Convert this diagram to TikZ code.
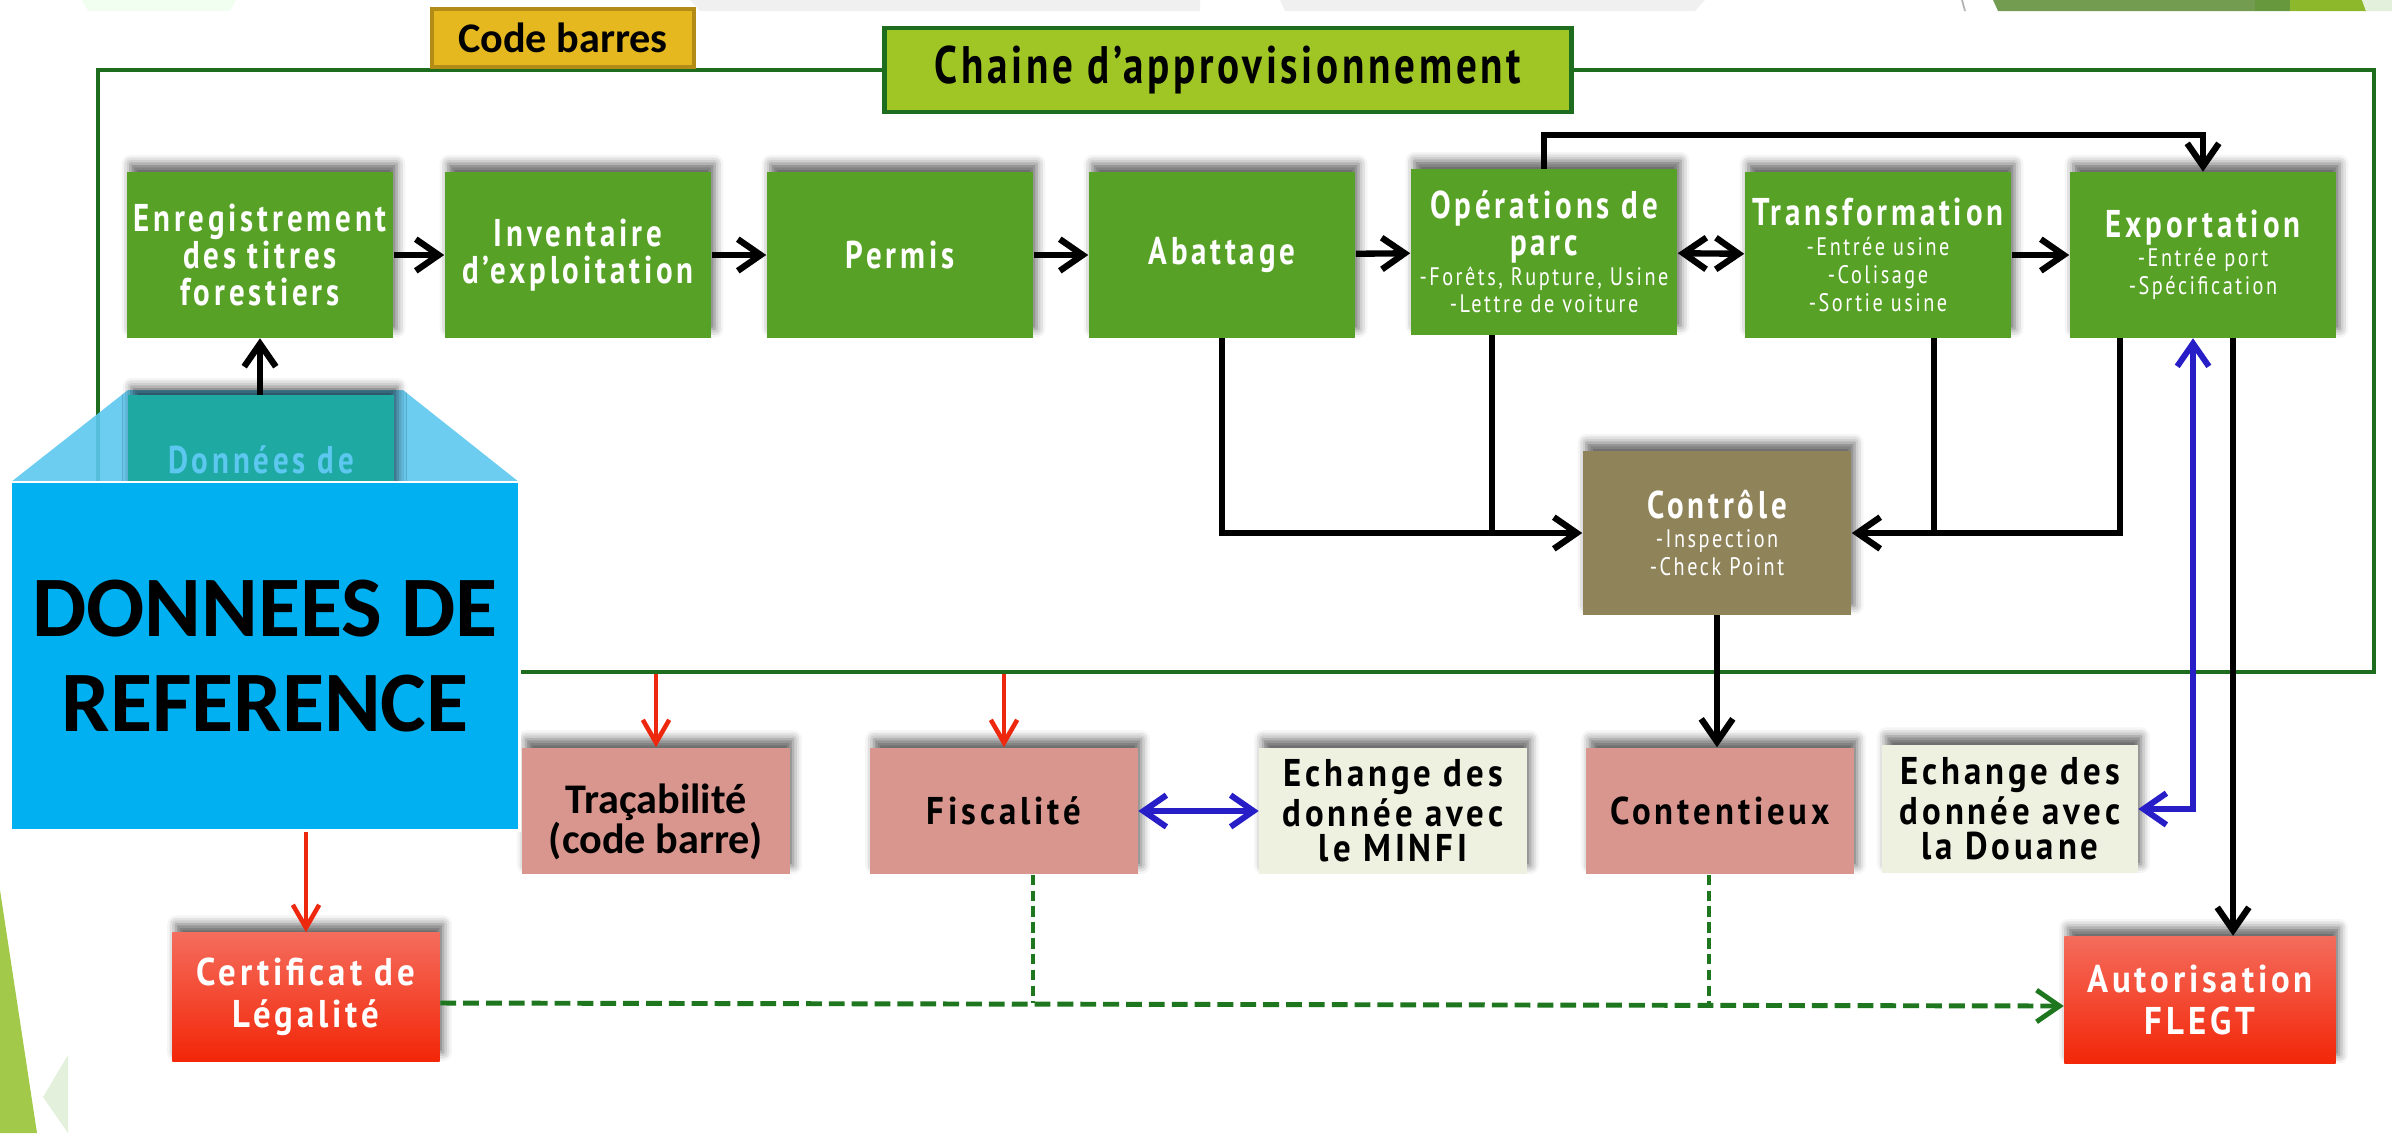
\documentclass[tikz,border=0pt]{standalone}
\usepackage{fontspec}
\usepackage{xcolor}
\usepackage{tikz}
\usetikzlibrary{arrows.meta,shadows.blur}
\setmainfont{PT Sans}
\newfontfamily\agency[FakeStretch=0.8,LetterSpace=10]{PT Sans}
\newfontfamily\agencyt[FakeStretch=0.78,LetterSpace=7]{PT Sans}
\newfontfamily\agencyb[FakeStretch=0.9,LetterSpace=10]{PT Sans}
\newfontfamily\calibri{Carlito}
\newcommand{\petit}{\mdseries\fontsize{7.2}{8}\selectfont}

\definecolor{vertbox}{RGB}{87,162,38}
\definecolor{vertcadre}{RGB}{30,108,30}
\definecolor{verttitre}{RGB}{160,198,38}
\definecolor{orcode}{RGB}{229,184,32}
\definecolor{orbord}{RGB}{178,140,22}
\definecolor{brun}{RGB}{143,131,89}
\definecolor{rose}{RGB}{217,150,143}
\definecolor{creme}{RGB}{238,240,224}
\definecolor{rougehaut}{RGB}{244,108,92}
\definecolor{rougebas}{RGB}{243,38,8}
\definecolor{rouge}{RGB}{238,40,14}
\definecolor{bleu}{RGB}{40,30,200}
\definecolor{ciel}{RGB}{0,176,240}
\definecolor{cielclair}{RGB}{92,200,240}
\definecolor{sarcelle}{RGB}{31,169,163}
\definecolor{pointille}{RGB}{30,118,30}
\definecolor{decoA}{RGB}{115,156,80}
\definecolor{decoB}{RGB}{104,152,62}
\definecolor{decoC}{RGB}{141,184,44}
\definecolor{decoD}{RGB}{162,201,74}
\definecolor{decoE}{RGB}{227,240,220}

\tikzset{
  boite/.style={minimum width=2.66cm, minimum height=1.65cm, inner sep=0pt, align=center,
    blur shadow={shadow xshift=1pt, shadow yshift=2.5pt, shadow blur radius=2.5pt, shadow opacity=60}},
  etape/.style={boite, fill=vertbox, text=white, font=\agency\bfseries\fontsize{11}{10.5}\selectfont},
  controle/.style={etape, fill=brun, minimum width=2.68cm, minimum height=1.63cm},
  service/.style={boite, fill=rose, text=black, minimum width=2.67cm, minimum height=1.26cm, font=\agencyb\bfseries\fontsize{11}{10}\selectfont},
  echange/.style={service, fill=creme},
  acte/.style={boite, top color=rougehaut, bottom color=rougebas, text=white, minimum width=2.67cm, minimum height=1.28cm, font=\agencyb\bfseries\fontsize{11}{12}\selectfont},
  flux/.style={line width=1.8pt, >={Straight Barb[length=6.5pt,width=9pt]}},
  rflux/.style={draw=rouge, line width=1.3pt, >={Straight Barb[length=6.5pt,width=7.5pt]}},
  bflux/.style={draw=bleu, line width=1.7pt, >={Straight Barb[length=6.5pt,width=9pt]}},
  gflux/.style={draw=pointille, line width=1.4pt, dash pattern=on 4.5pt off 2pt, >={Straight Barb[length=6.5pt,width=9pt]}},
}

\begin{document}
\begin{tikzpicture}[x=0.01cm,y=-0.01cm]
\useasboundingbox (0,0) rectangle (2392,1133);
\fill[green!6] (82,0) -- (236,0) -- (230,11) -- (88,11) -- cycle;
\fill[gray!12] (690,0) -- (1200,0) -- (1200,11) -- (700,11) -- cycle;
\fill[gray!12] (1280,0) -- (1705,0) -- (1695,11) -- (1285,11) -- cycle;
\draw[gray!60, line width=0.5pt] (1962,0) -- (1965,11);
\fill[decoA] (1993,0) -- (2290,0) -- (2290,11) -- (1998,11) -- cycle;
\fill[decoB] (2255,0) rectangle (2290,11);
\fill[decoC] (2290,0) -- (2362,0) -- (2366,11) -- (2290,11) -- cycle;
\fill[decoE] (2362,0) -- (2392,0) -- (2392,11) -- (2366,11) -- cycle;
\fill[decoD] (0,890) -- (37,1133) -- (0,1133) -- cycle;
\fill[decoE] (68,1055) -- (43,1097) -- (68,1133) -- cycle;

\node[draw=vertcadre, line width=1.1pt, minimum width=22.74cm, minimum height=6.02cm, inner sep=0pt] (cadre) at (1236,371) {};
\node[fill=verttitre, draw=vertcadre, line width=1.3pt, minimum width=6.87cm, minimum height=0.84cm, font=\agencyt\bfseries\fontsize{15}{15}\selectfont] (chaine) at (1228,70) {Chaine d’approvisionnement};
\node[fill=orcode, draw=orbord, line width=1pt, minimum width=2.62cm, minimum height=0.58cm, font=\calibri\bfseries\fontsize{12}{12}\selectfont] (code) at (563,38) {Code barres};

\node[etape] (enreg) at (260,255) {Enregistrement\\des titres\\forestiers};
\node[etape] (invent) at (578,255) {Inventaire\\d’exploitation};
\node[etape] (permis) at (900,255) {Permis};
\node[etape] (abat) at (1222,255) {Abattage};
\node[etape] (parc) at (1544,252) {Opérations de\\parc\\[-2pt]\petit -Forêts, Rupture, Usine\\[-2.8pt]\petit -Lettre de voiture};
\node[etape] (transf) at (1878,255) {Transformation\\[-2.2pt]\petit -Entrée usine\\[-2.5pt]\petit -Colisage\\[-2.5pt]\petit -Sortie usine};
\node[etape] (export) at (2203,255) {Exportation\\[-2.2pt]\petit -Entrée port\\[-2.5pt]\petit -Spécification};
\node[controle] (ctrl) at (1717,533) {Contrôle\\[-2.2pt]\petit -Inspection\\[-2.5pt]\petit -Check Point};

\node[service, font=\calibri\bfseries\fontsize{12}{11.5}\selectfont] (trac) at (656,811) {\mbox{}\\[3pt]Traçabilité\\(code barre)};
\node[service] (fisc) at (1004,811) {Fiscalité};
\node[echange] (minfi) at (1393,811) {Echange des\\donnée avec\\le MINFI};
\node[service] (cont) at (1720,811) {Contentieux};
\node[echange, minimum width=2.55cm, minimum height=1.28cm] (douane) at (2010,809) {Echange des\\donnée avec\\la Douane};
\node[acte] (cert) at (306,997) {Certificat de\\Légalité};
\node[acte, minimum width=2.71cm, minimum height=1.27cm] (autor) at (2200,1000) {Autorisation\\FLEGT};

\draw[flux,->] (enreg) -- (invent);
\draw[flux,->] (invent) -- (permis);
\draw[flux,->] (permis) -- (abat);
\draw[flux,->] (abat) -- (parc);
\draw[flux,<->] (parc) -- (transf);
\draw[flux,->] (transf) -- (export);
\draw[flux,->] (parc.north) -- ++(0,-34) -| (export.north);
\draw[flux,->] (abat.south) |- (ctrl.west);
\draw[flux] ([xshift=-0.52cm]parc.south) -- ([xshift=-0.52cm]parc.south |- ctrl.west);
\draw[flux] ([xshift=0.56cm]transf.south) -- ([xshift=0.56cm]transf.south |- ctrl.east);
\draw[flux,->] ([xshift=-0.83cm]export.south) |- (ctrl.east);
\draw[flux,->] ([xshift=0.3cm]export.south) -- ([xshift=0.3cm]export.south |- autor.north);
\draw[flux,->] (ctrl.south) -- (ctrl.south |- cont.north);
\draw[bflux,<->] (fisc) -- (minfi);
\draw[bflux,<->] (douane.east) -| ([xshift=-0.1cm]export.south);
\draw[rflux,->] (cadre.south -| trac.north) -- (trac.north);
\draw[rflux,->] (cadre.south -| fisc.north) -- (fisc.north);
\coordinate (ligne) at ([yshift=-0.06cm]cert.east);
\draw[gflux,->] (ligne) -- ([yshift=-0.06cm]autor.west);
\draw[gflux, line width=1.1pt, dash pattern=on 3pt off 1.5pt] ([xshift=0.29cm]fisc.south) -- ([xshift=0.29cm]fisc.south |- ligne);
\draw[gflux, line width=1.1pt, dash pattern=on 3pt off 1.5pt] ([xshift=-0.11cm]cont.south) -- ([xshift=-0.11cm]cont.south |- ligne);

\fill[cielclair, fill opacity=0.9] (11,482) -- (128,390) -- (403,390) -- (519,482) -- cycle;
\node[etape, fill=sarcelle, text=cielclair] (donnees) at (261,478) {Données de\\référence};
\node[fill=ciel, draw=white, line width=0.8pt, minimum width=5.08cm, minimum height=3.48cm, inner sep=0pt, align=center, font=\calibri\bfseries\fontsize{24.5}{27}\selectfont] (ref) at (265,656) {DONNEES DE\\REFERENCE};
\draw[flux,->] (enreg.south |- donnees.north) -- (enreg.south);
\draw[rflux,->] (cert.north |- ref.south) -- (cert.north);
\end{tikzpicture}
\end{document}
